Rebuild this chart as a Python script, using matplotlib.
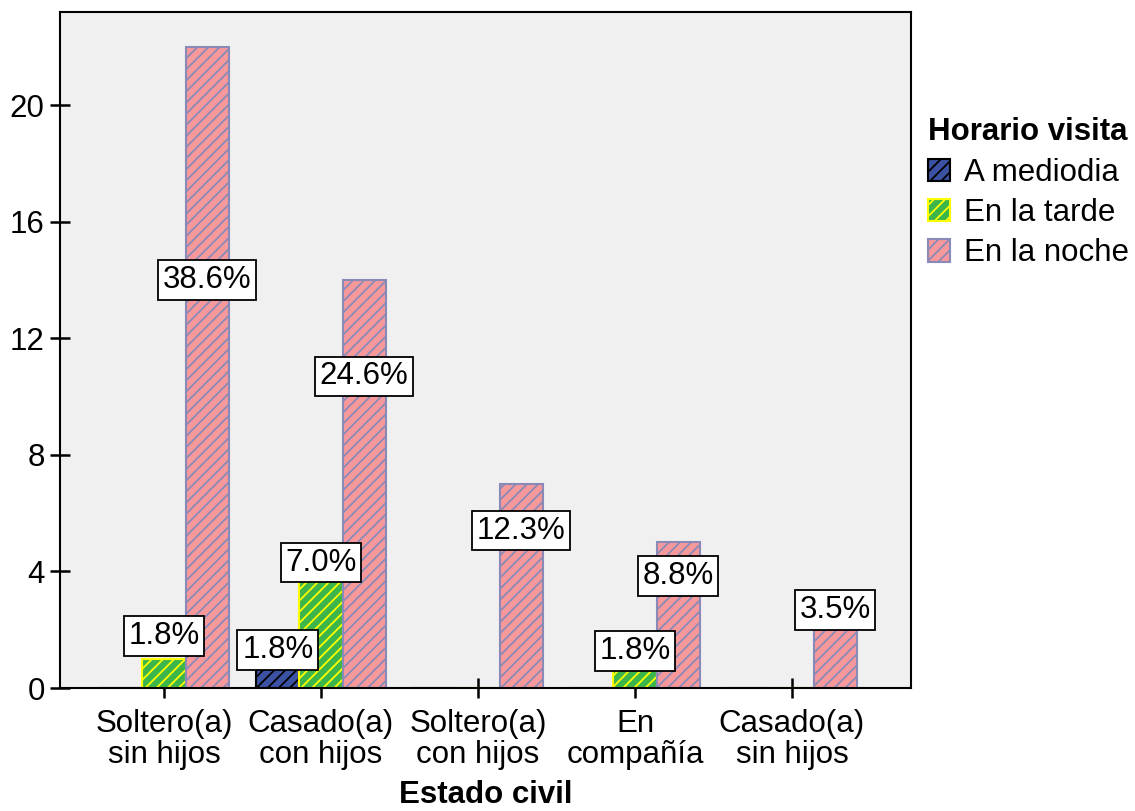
import numpy as np
import matplotlib.pyplot as plt
from matplotlib.patches import Patch

plt.rcParams['font.family'] = ['Liberation Sans', 'DejaVu Sans']
plt.rcParams['hatch.linewidth'] = 1.3

categories = ["Soltero(a)\nsin hijos", "Casado(a)\ncon hijos", "Soltero(a)\ncon hijos",
              "En\ncompañía", "Casado(a)\nsin hijos"]
series = ["A mediodia", "En la tarde", "En la noche"]
mediodia = [0, 1, 0, 0, 0]
tarde = [1, 4, 0, 1, 0]
noche = [22, 14, 7, 5, 2]

# where SPSS put the percentage boxes (y centre, in data units)
label_y = {
    "A mediodia": [None, 1.3, None, None, None],
    "En la tarde": [1.78, 4.3, None, 1.27, None],
    "En la noche": [14.0, 10.7, 5.4, 3.84, 2.68],
}

face = ["#3b52a3", "#3cb54a", "#f7999b"]
edge = ["#000000", "#ffff00", "#8a8ab8"]

total = sum(mediodia) + sum(tarde) + sum(noche)
values = [mediodia, tarde, noche]
fs = 22.5

fig = plt.figure(figsize=(11.35, 8.11), dpi=100)
ax = fig.add_axes([60 / 1135, 123 / 811, 851 / 1135, 676 / 811])
ax.set_facecolor("#f0f0f0")

x = np.arange(len(categories))
w = 0.275
for i, name in enumerate(series):
    pos = x + (i - 1) * w
    ax.bar(pos, values[i], width=w, color=face[i], edgecolor=edge[i],
           hatch="///", linewidth=1.5, zorder=2)
    for j, v in enumerate(values[i]):
        if v == 0:
            continue
        pct = f"{100 * v / total:.1f}%"
        ax.text(pos[j], label_y[name][j], pct, ha="center", va="center",
                fontsize=fs, zorder=5,
                bbox=dict(boxstyle="square,pad=0.15", fc="white", ec="black", lw=1.3))

ax.set_xlim(-0.662, 4.758)
ax.set_ylim(0, 23.2)
ax.set_yticks([0, 4, 8, 12, 16, 20])
ax.set_xticks(x)
ax.set_xticklabels(categories, fontsize=fs, linespacing=1.05)
ax.tick_params(axis="y", labelsize=fs, direction="inout", length=14, width=1.8, pad=4)
ax.tick_params(axis="x", direction="inout", length=14, width=1.8, pad=8)
for s in ax.spines.values():
    s.set_linewidth(1.5)
ax.set_xlabel("Estado civil", fontsize=fs, fontweight="bold", labelpad=7)

handles = [Patch(facecolor=face[i], edgecolor=edge[i], hatch="///", linewidth=1.5)
           for i in range(3)]
leg = fig.legend(handles, series, loc="upper left", bbox_to_anchor=(915 / 1135, 1 - 105 / 811),
                 frameon=False, fontsize=fs, title="Horario visita",
                 title_fontproperties={"weight": "bold", "size": fs},
                 handlelength=0.72, handleheight=0.72, handletextpad=0.45,
                 labelspacing=0.33, borderaxespad=0)
leg._legend_box.align = "left"

fig.savefig("out.png", dpi=100)
